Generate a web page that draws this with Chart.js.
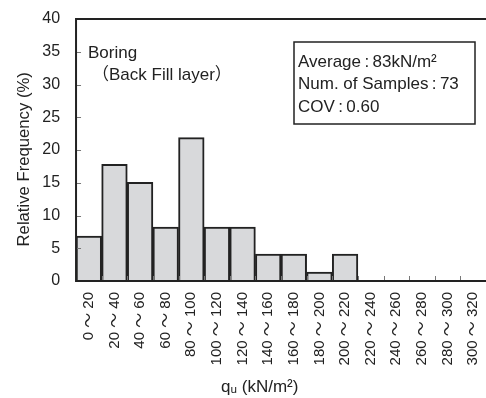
<!DOCTYPE html>
<html>
<head>
<meta charset="utf-8">
<script src="https://cdn.jsdelivr.net/npm/chart.js@4/dist/chart.umd.min.js"></script>
<style>
  body { margin: 0; background: #fff; }
  #wrap { width: 486px; height: 398px; }
</style>
</head>
<body>
<div id="wrap"><canvas id="histChart" width="486" height="398"></canvas></div>
<script>
// bins of unconfined compression strength qu (kN/m2)
const bins = ["0〜20", "20〜40", "40〜60", "60〜80", "80〜100", "100〜120", "120〜140", "140〜160",
  "160〜180", "180〜200", "200〜220", "220〜240", "240〜260", "260〜280", "280〜300", "300〜320"];
// relative frequency (%)
const freq = [6.85, 17.8, 15.07, 8.22, 21.9, 8.22, 8.22, 4.11, 4.11, 1.37, 4.11, 0, 0, 0, 0, 0];
const yTicks = [0, 5, 10, 15, 20, 25, 30, 35, 40];
const statLines = ["Average\u2009:\u200983kN/m²", "Num. of Samples\u2009:\u200973", "COV\u2009:\u20090.60"];
const noteLines = ["Boring", "（Back Fill layer）"];

const FONT = "'Liberation Sans', Arial, 'Noto Sans CJK JP', sans-serif";

// inward tick marks, frame, text notes
const decor = {
  id: "decor",
  afterDatasetsDraw(chart) {
    const ctx = chart.ctx;
    const a = chart.chartArea;
    const x = chart.scales.x, y = chart.scales.y;
    ctx.save();
    ctx.strokeStyle = "#777";
    ctx.lineWidth = 1;
    ctx.beginPath();
    yTicks.forEach(v => {
      if (v === 0 || v === 40) return;
      const py = Math.round(y.getPixelForValue(v)) + 0.5;
      ctx.moveTo(a.left, py); ctx.lineTo(a.left + 5, py);
    });
    for (let i = 1; i < bins.length; i++) {
      const px = Math.round((x.getPixelForValue(i - 1) + x.getPixelForValue(i)) / 2) + 0.5;
      ctx.moveTo(px, a.bottom); ctx.lineTo(px, a.bottom - 5);
    }
    ctx.stroke();

    // frame (right side falls outside the picture)
    ctx.strokeStyle = "#222";
    ctx.lineWidth = 2;
    ctx.beginPath();
    ctx.moveTo(a.right + 2, a.top); ctx.lineTo(a.left, a.top);
    ctx.lineTo(a.left, a.bottom); ctx.lineTo(a.right + 2, a.bottom);
    ctx.stroke();

    // notes
    ctx.fillStyle = "#222";
    ctx.font = "17px " + FONT;
    ctx.textBaseline = "middle";
    ctx.fillText(noteLines[0], 88, 53);
    ctx.fillText(noteLines[1], 92, 75);

    // stats box
    ctx.lineWidth = 1.5;
    ctx.strokeRect(294, 42, 181, 82);
    statLines.forEach((s, i) => ctx.fillText(s, 298, 62 + i * 22.5));
    ctx.restore();
  }
};

new Chart(document.getElementById("histChart"), {
  type: "bar",
  data: {
    labels: bins.map(b => b.replace("〜", " 〜 ")),
    datasets: [{
      data: freq,
      backgroundColor: "#d8d9db",
      borderColor: "#222",
      borderWidth: 2,
      barPercentage: 1,
      categoryPercentage: 1
    }]
  },
  options: {
    responsive: false,
    animation: false,
    layout: { padding: { top: 0, right: 0, left: 14, bottom: 0 } },
    plugins: { legend: { display: false }, tooltip: { enabled: false } },
    scales: {
      x: {
        grid: { display: false, drawTicks: false },
        border: { display: false },
        afterFit: s => { s.paddingRight = 0; s.height -= 6.8; },
        ticks: {
          color: "#222",
          font: { family: FONT, size: 15 },
          minRotation: 90, maxRotation: 90,
          padding: 11,
          autoSkip: false
        },
        title: {
          display: true,
          text: "qᵤ (kN/m²)" + "         ",
          color: "#222",
          font: { family: FONT, size: 17 },
          padding: { top: 8, bottom: 0 }
        }
      },
      y: {
        min: 0, max: 40,
        afterBuildTicks: s => { s.ticks = yTicks.map(v => ({ value: v })); },
        afterFit: s => { s.width -= 9.8; s.paddingTop = 19; },
        grid: { display: false, drawTicks: false },
        border: { display: false },
        ticks: {
          color: "#222",
          font: { family: FONT, size: 16 },
          padding: 16
        },
        title: {
          display: true,
          text: "Relative Frequency (%)" + "    ",
          color: "#222",
          font: { family: FONT, size: 16.7 },
          padding: { top: 0, bottom: 2 }
        }
      }
    }
  },
  plugins: [decor]
});
</script>
</body>
</html>
